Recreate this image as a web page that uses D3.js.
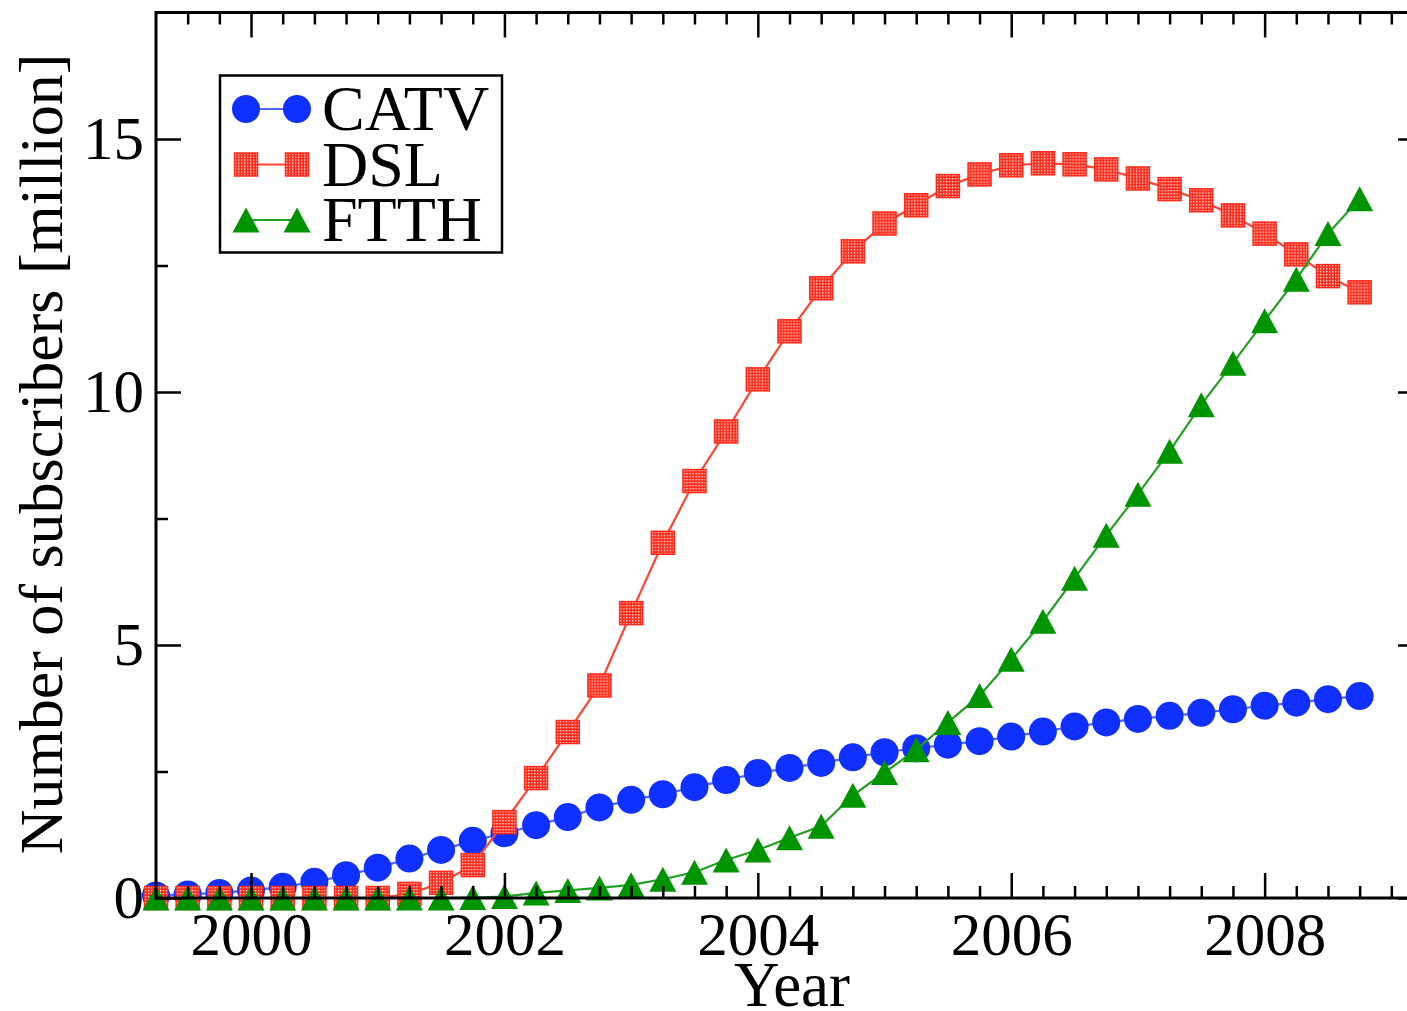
<!DOCTYPE html>
<html>
<head>
<meta charset="utf-8">
<script src="https://cdn.jsdelivr.net/npm/d3@7"></script>
<style>
  body { margin: 0; background: #fff; }
  svg { display: block; font-family: "Liberation Serif", "Times New Roman", serif; }
</style>
</head>
<body>
<svg id="chart" width="1407" height="1011"></svg>
<script>
// quarterly samples, 1999.25 .. 2008.75
const START = 1999.25;
const STEP = 0.25;

const catv = [0.05, 0.07, 0.1, 0.15, 0.22, 0.32, 0.45, 0.6, 0.78, 0.95,
  1.13, 1.28, 1.44, 1.6, 1.79, 1.94, 2.05, 2.19, 2.33, 2.47,
  2.57, 2.67, 2.78, 2.88, 2.96, 3.03, 3.1, 3.19, 3.29, 3.39,
  3.47, 3.54, 3.6, 3.66, 3.73, 3.8, 3.86, 3.93, 3.99];

const dsl = [0, 0, 0, 0, 0, 0, 0, 0, 0.08, 0.3,
  0.65, 1.5, 2.37, 3.28, 4.2, 5.63, 7.02, 8.24, 9.22, 10.25,
  11.2, 12.05, 12.78, 13.33, 13.69, 14.07, 14.3, 14.48, 14.52, 14.5,
  14.4, 14.22, 14.01, 13.79, 13.49, 13.13, 12.72, 12.29, 11.97];

const ftth = [0, 0, 0, 0, 0, 0, 0, 0, 0, 0,
  0.01, 0.03, 0.1, 0.15, 0.2, 0.26, 0.37, 0.51, 0.75, 0.95,
  1.19, 1.42, 2.03, 2.48, 2.93, 3.47, 4.0, 4.72, 5.47, 6.32,
  7.17, 7.98, 8.83, 9.75, 10.57, 11.41, 12.23, 13.13, 13.82];

const xTicks = [2000, 2002, 2004, 2006, 2008];
const yTicks = [0, 5, 10, 15];

const series = [
  { name: "CATV", values: catv, symbol: "circle", fill: "#1030ff", line: "#4d66ff" },
  { name: "DSL", values: dsl, symbol: "square", fill: "url(#dots)", line: "#ff4433", stroke: "#ff2a1a" },
  { name: "FTTH", values: ftth, symbol: "triangle", fill: "#009400", line: "#22a022" }
];

const width = 1407;
const height = 1011;
const margin = { top: 12.5, right: -16, bottom: 113, left: 156 };

const x = d3.scaleLinear()
  .domain([1999.25, 2009.25])
  .range([margin.left, width - margin.right]);

const y = d3.scaleLinear()
  .domain([0, 17.5])
  .range([height - margin.bottom, margin.top]);

const svg = d3.select("#chart");

// dotted fill for the DSL squares
const pat = svg.append("defs").append("pattern")
  .attr("id", "dots")
  .attr("patternUnits", "userSpaceOnUse")
  .attr("width", 3).attr("height", 3);
pat.append("rect").attr("width", 3).attr("height", 3).attr("fill", "#ff2a1a");
pat.append("rect").attr("x", 1).attr("y", 1).attr("width", 1.3).attr("height", 1.3).attr("fill", "#fff");

const pts = vals => vals.map((v, i) => [START + i * STEP, v]);

const line = d3.line()
  .x(d => x(d[0]))
  .y(d => y(d[1]));

const marker = (g, type, fill, stroke) => {
  if (type === "circle") {
    g.append("circle").attr("r", 14).attr("fill", fill);
  } else if (type === "square") {
    g.append("rect").attr("x", -11.5).attr("y", -11.5).attr("width", 23).attr("height", 23)
      .attr("fill", fill).attr("stroke", stroke).attr("stroke-width", 1.5);
  } else {
    g.append("path").attr("d", "M0,-12.5L13.5,12.5L-13.5,12.5Z").attr("fill", fill);
  }
};

// series lines + markers
series.forEach(s => {
  const data = pts(s.values);
  svg.append("path")
    .datum(data)
    .attr("fill", "none")
    .attr("stroke", s.line)
    .attr("stroke-width", 2.2)
    .attr("d", line);

  svg.append("g").selectAll("g")
    .data(data)
    .join("g")
    .attr("transform", d => `translate(${x(d[0])},${y(d[1])})`)
    .each(function () { marker(d3.select(this), s.symbol, s.fill, s.stroke); });
});

// axes, ticks pointing inward on all four sides
const x0 = height - margin.bottom;
const y0 = margin.left;
const minorX = d3.range(1999.5, 2009.01, 0.25).filter(v => Math.abs(v / 2 - Math.round(v / 2)) > 1e-6);
const minorY = d3.range(2.5, 17.5, 5);

const styleAxis = g => {
  g.select(".domain").remove();
  g.selectAll(".tick line").attr("stroke", "#000").attr("stroke-width", 2.5);
  g.selectAll(".tick text").attr("fill", "#000").attr("font-size", 61)
    .attr("font-family", "'Liberation Serif', 'Times New Roman', serif");
};

svg.append("g").attr("transform", `translate(0,${x0})`)
  .call(d3.axisBottom(x).tickValues(xTicks).tickFormat(d3.format("d")).tickSize(-25).tickPadding(14))
  .call(styleAxis);
svg.append("g").attr("transform", `translate(0,${x0})`)
  .call(d3.axisBottom(x).tickValues(minorX).tickFormat("").tickSize(-12))
  .call(styleAxis);
svg.append("g").attr("transform", `translate(0,${margin.top})`)
  .call(d3.axisTop(x).tickValues(xTicks).tickFormat("").tickSize(-25))
  .call(styleAxis);
svg.append("g").attr("transform", `translate(0,${margin.top})`)
  .call(d3.axisTop(x).tickValues(minorX).tickFormat("").tickSize(-12))
  .call(styleAxis);

svg.append("g").attr("transform", `translate(${y0},0)`)
  .call(d3.axisLeft(y).tickValues(yTicks).tickSize(-25).tickPadding(12))
  .call(styleAxis);
svg.append("g").attr("transform", `translate(${y0},0)`)
  .call(d3.axisLeft(y).tickValues(minorY).tickFormat("").tickSize(-12))
  .call(styleAxis);
svg.append("g").attr("transform", `translate(${width - margin.right},0)`)
  .call(d3.axisRight(y).tickValues(yTicks).tickFormat("").tickSize(-25))
  .call(styleAxis);
svg.append("g").attr("transform", `translate(${width - margin.right},0)`)
  .call(d3.axisRight(y).tickValues(minorY).tickFormat("").tickSize(-12))
  .call(styleAxis);

// frame
svg.append("rect")
  .attr("x", margin.left).attr("y", margin.top)
  .attr("width", width - margin.right - margin.left)
  .attr("height", x0 - margin.top)
  .attr("fill", "none").attr("stroke", "#000").attr("stroke-width", 3);

// axis titles
svg.append("text")
  .attr("x", 792)
  .attr("y", 1006)
  .attr("text-anchor", "middle")
  .attr("font-size", 63)
  .text("Year");

svg.append("text")
  .attr("transform", `translate(62,454) rotate(-90)`)
  .attr("text-anchor", "middle")
  .attr("font-size", 62)
  .text("Number of subscribers [million]");

// legend
const legend = svg.append("g");
legend.append("rect")
  .attr("x", 220).attr("y", 75.5).attr("width", 282).attr("height", 177)
  .attr("fill", "#fff").attr("stroke", "#000").attr("stroke-width", 2.5);

series.forEach((s, i) => {
  const ry = 109 + i * 55.5;
  legend.append("line")
    .attr("x1", 246).attr("x2", 297).attr("y1", ry).attr("y2", ry)
    .attr("stroke", s.line).attr("stroke-width", 2.2);
  [246, 297].forEach(mx => {
    const g = legend.append("g").attr("transform", `translate(${mx},${ry})`);
    marker(g, s.symbol, s.fill, s.stroke);
  });
  legend.append("text")
    .attr("x", 322).attr("y", ry + 21)
    .attr("font-size", 64)
    .text(s.name);
});
</script>
</body>
</html>
